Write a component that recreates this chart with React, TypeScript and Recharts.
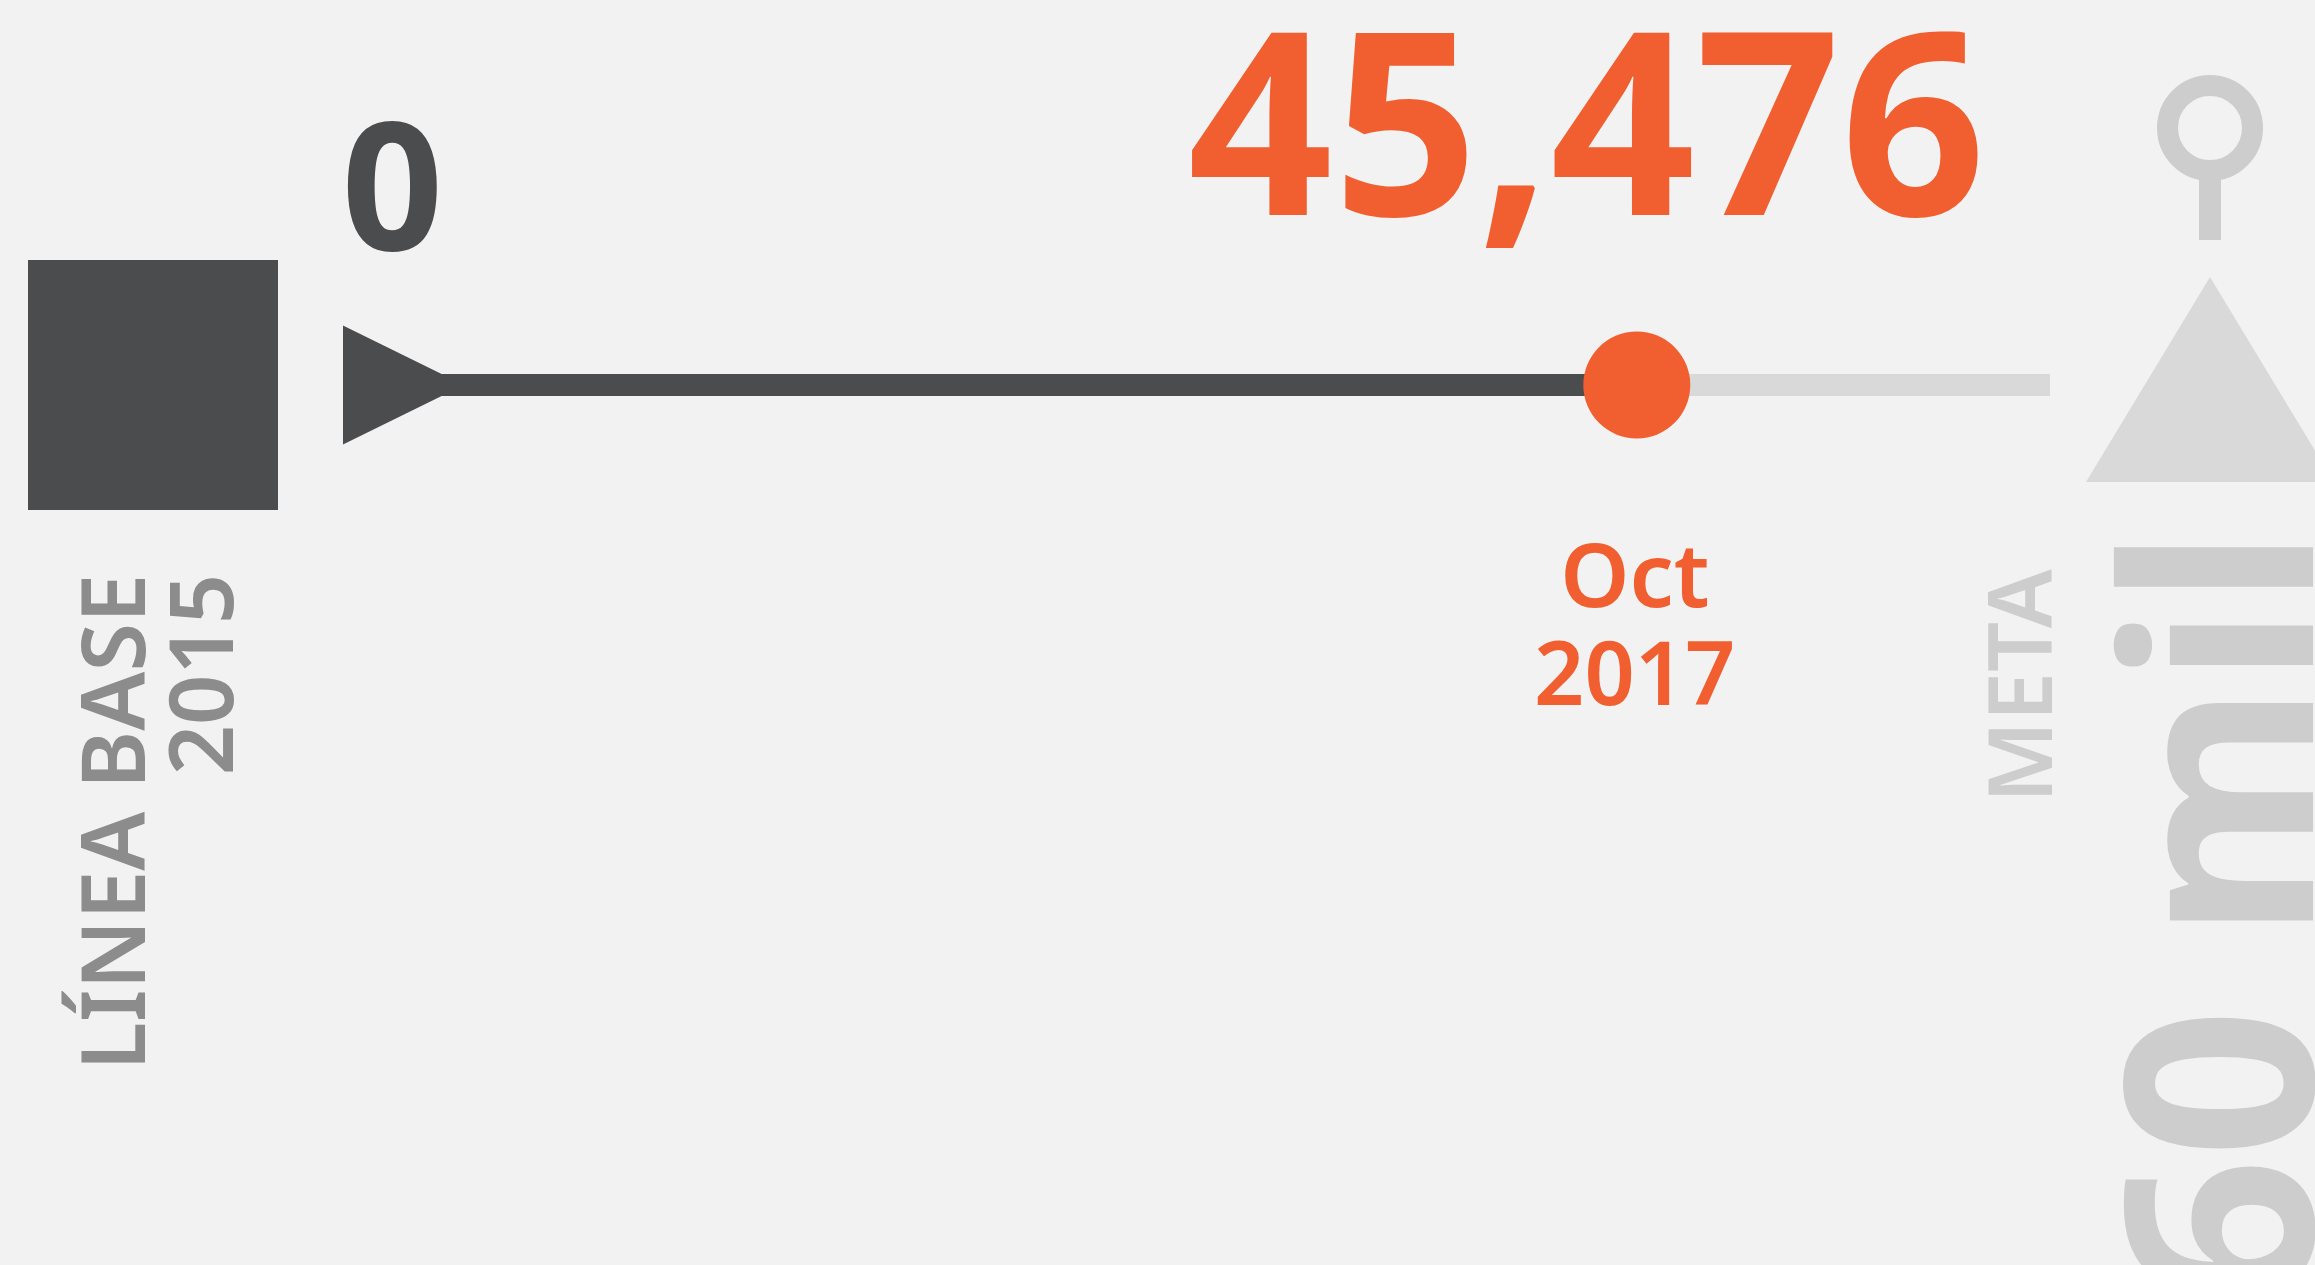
import { ComposedChart, Line, Scatter, XAxis, YAxis } from 'recharts';

// progress indicator values
const BASE_VALUE = 0;
const CURRENT_VALUE = 45476;
const TARGET_VALUE = 60000;

const baseLines = ['LÍNEA BASE', '2015'];
const dateLines = ['Oct', '2017'];
const targetLabel = 'META';
const targetText = '60 mil';

const doneData = [{ x: BASE_VALUE, y: 0.5 }, { x: CURRENT_VALUE, y: 0.5 }];
const leftData = [{ x: CURRENT_VALUE, y: 0.5 }, { x: TARGET_VALUE, y: 0.5 }];
const baseData = [{ x: BASE_VALUE, y: 0.5 }];
const currentData = [{ x: CURRENT_VALUE, y: 0.5 }];
const targetData = [{ x: TARGET_VALUE, y: 0.5 }];

const DARK = '#4b4c4e';
const ORANGE = '#f15e2f';
const GREY_TEXT = '#8c8c8c';
const LIGHT = '#cdcdcd';
const LIGHTER = '#d9d9d9';
const FONT = "'Noto Sans', sans-serif";

function BaseShape({ cx, cy }: any) {
  return (
    <g>
      <rect x={cx - 315} y={cy - 125} width={250} height={250} fill={DARK} />
      <polygon points={`${cx},${cy - 59.5} ${cx + 121},${cy} ${cx},${cy + 59.5}`} fill={DARK} />
      <text x={cx + 49.5} y={cy - 135} textAnchor="middle" fontFamily={FONT} fontSize={178} fontWeight={700} fill={DARK}>
        {BASE_VALUE}
      </text>
      {baseLines.map((t, i) => {
        const bx = cx - 198 + i * 88;
        const by = cy + 189;
        return (
          <text key={t} x={bx} y={by} transform={`rotate(-90 ${bx} ${by})`} textAnchor="end"
            fontFamily={FONT} fontSize={88} fontWeight={600} fill={GREY_TEXT}>
            {t}
          </text>
        );
      })}
    </g>
  );
}

function CurrentShape({ cx, cy }: any) {
  return (
    <g>
      <circle cx={cx} cy={cy} r={53.5} fill={ORANGE} />
      <text x={cx - 449} y={cy - 170} textAnchor="start" textLength={798} lengthAdjust="spacingAndGlyphs"
        fontFamily={FONT} fontSize={256} fontWeight={700} fill={ORANGE}>
        {CURRENT_VALUE.toLocaleString('en-US')}
      </text>
      {dateLines.map((t, i) => (
        <text key={t} x={cx - 2} y={cy + 222 + i * 98} textAnchor="middle" fontFamily={FONT} fontSize={88} fontWeight={600} fill={ORANGE}>
          {t}
        </text>
      ))}
    </g>
  );
}

function TargetShape({ cx, cy }: any) {
  const px = cx + 160;
  return (
    <g>
      <circle cx={px} cy={cy - 257} r={42.5} fill="none" stroke={LIGHT} strokeWidth={21} />
      <rect x={px - 11} y={cy - 220} width={22} height={75} fill={LIGHT} />
      <polygon points={`${px},${cy - 108} ${px - 124},${cy + 97} ${px + 124},${cy + 97}`} fill={LIGHTER} />
      <text x={cx + 2} y={cy + 184} transform={`rotate(-90 ${cx + 2} ${cy + 184})`} textAnchor="end"
        fontFamily={FONT} fontSize={88} fontWeight={600} fill={LIGHT}>
        {targetLabel}
      </text>
      <text x={cx + 263} y={cy + 143} transform={`rotate(-90 ${cx + 263} ${cy + 143})`} textAnchor="end"
        fontFamily={FONT} fontSize={262} fontWeight={700} fill={LIGHT}>
        {targetText}
      </text>
    </g>
  );
}

export default function App() {
  return (
    <div style={{ position: 'fixed', left: 0, top: 0, width: 2315, height: 1265, background: '#f2f2f2', overflow: 'hidden' }}>
      <ComposedChart width={2315} height={1265} margin={{ top: 0, right: 265, bottom: 495, left: 343 }}>
        <XAxis dataKey="x" type="number" domain={[BASE_VALUE, TARGET_VALUE]} hide />
        <YAxis dataKey="y" type="number" domain={[0, 1]} hide />
        <Line data={leftData} dataKey="y" stroke={LIGHTER} strokeWidth={22} dot={false} activeDot={false} isAnimationActive={false} />
        <Line data={doneData} dataKey="y" stroke={DARK} strokeWidth={22} dot={false} activeDot={false} isAnimationActive={false} />
        <Scatter data={baseData} shape={(p: any) => <BaseShape {...p} />} isAnimationActive={false} />
        <Scatter data={currentData} shape={(p: any) => <CurrentShape {...p} />} isAnimationActive={false} />
        <Scatter data={targetData} shape={(p: any) => <TargetShape {...p} />} isAnimationActive={false} />
      </ComposedChart>
    </div>
  );
}
